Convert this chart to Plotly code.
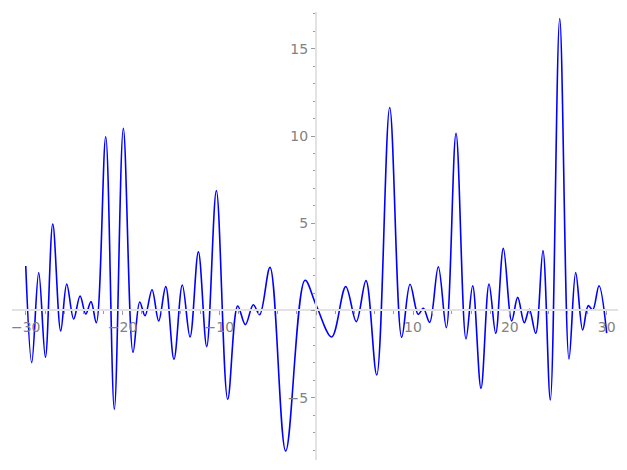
import plotly.graph_objects as go

# Curve points (local extrema and a few shape points)
x_vals = [-30.0, -29.38, -28.66, -27.97, -27.21, -26.39, -25.77, -25.05, -24.39, -23.80,
          -23.26, -22.71, -21.74, -20.85, -19.92, -18.92, -18.23, -17.68, -16.96, -16.27,
          -15.54, -14.69, -13.83, -13.03, -12.17, -11.31, -10.31, -9.14, -8.11, -7.32,
          -6.50, -5.84, -4.77, -3.15, -1.16, 0.0, 1.60, 3.05, 4.14, 5.14,
          6.25, 7.59, 8.83, 9.69, 10.54, 11.06, 11.72, 12.61, 13.44, 14.44,
          15.47, 16.16, 17.02, 17.85, 18.54, 19.33, 20.19, 20.81, 21.49, 22.01,
          22.67, 23.42, 24.18, 25.15, 26.11, 26.80, 27.52, 28.10, 28.56, 29.21, 30.0]
y_vals = [2.55, -2.99, 2.17, -2.68, 4.96, -1.17, 1.52, -0.49, 0.83, -0.20,
          0.51, -0.70, 9.96, -5.66, 10.44, -2.40, 0.49, -0.30, 1.19, -0.60,
          1.37, -2.80, 1.46, -1.52, 3.37, -2.07, 6.87, -5.09, 0.26, -0.81,
          0.33, -0.24, 2.47, -8.05, 1.73, 0.30, -1.52, 1.37, -0.64, 1.71,
          -3.70, 11.64, -1.54, 1.50, -0.22, 0.13, -0.68, 2.51, -0.98, 10.15,
          -1.63, 1.42, -4.46, 1.52, -1.31, 3.56, -0.60, 0.75, -0.70, 0.07,
          -1.31, 3.43, -5.13, 16.74, -2.78, 2.17, -1.12, 0.28, 0.03, 1.42, -1.30]

x_ticks = [-30, -20, -10, 0, 10, 20, 30]
x_labels = ["−30", "−20", "−10", "", "10", "20", "30"]
y_ticks = [-5, 0, 5, 10, 15]
y_labels = ["−5", "", "5", "10", "15"]

x_range = [-31.42, 31.17]
y_range = [-8.57, 17.11]

fig = go.Figure()
fig.add_trace(go.Scatter(x=x_vals, y=y_vals, mode="lines",
                         line=dict(color="#0000ff", width=1.6, shape="spline", smoothing=1.0),
                         hoverinfo="skip"))

axis_line = "#e2e2e2"
tick_col = "#9a9a9a"
label_col = "#828282"
font = dict(family="DejaVu Sans", size=14, color=label_col)

fig.update_layout(
    width=627, height=470,
    margin=dict(l=12, r=9, t=12, b=10, autoexpand=False),
    paper_bgcolor="white", plot_bgcolor="white",
    showlegend=False,
    xaxis=dict(range=x_range, showgrid=False, zeroline=False, automargin=False,
               showline=True, linecolor=axis_line, linewidth=1.6,
               anchor="free", position=(0 - y_range[0]) / (y_range[1] - y_range[0]),
               tickmode="array", tickvals=x_ticks, ticktext=x_labels,
               ticks="outside", ticklen=4, tickwidth=1, tickcolor=tick_col,
               tickfont=font,
               minor=dict(tickmode="linear", tick0=0, dtick=2, ticks="outside",
                          ticklen=2.5, tickwidth=1, tickcolor=tick_col)),
    yaxis=dict(range=y_range, showgrid=False, zeroline=False, automargin=False,
               showline=True, linecolor=axis_line, linewidth=1.6,
               anchor="free", position=(0 - x_range[0]) / (x_range[1] - x_range[0]),
               tickmode="array", tickvals=y_ticks, ticktext=y_labels,
               ticks="outside", ticklen=4.5, tickwidth=1, tickcolor=tick_col,
               tickfont=font,
               minor=dict(tickmode="linear", tick0=0, dtick=1, ticks="outside",
                          ticklen=2.5, tickwidth=1, tickcolor=tick_col)),
)

fig.write_html("out.html", config={"displayModeBar": False},
               post_script="document.body.style.margin='0';document.body.style.overflow='hidden';")
